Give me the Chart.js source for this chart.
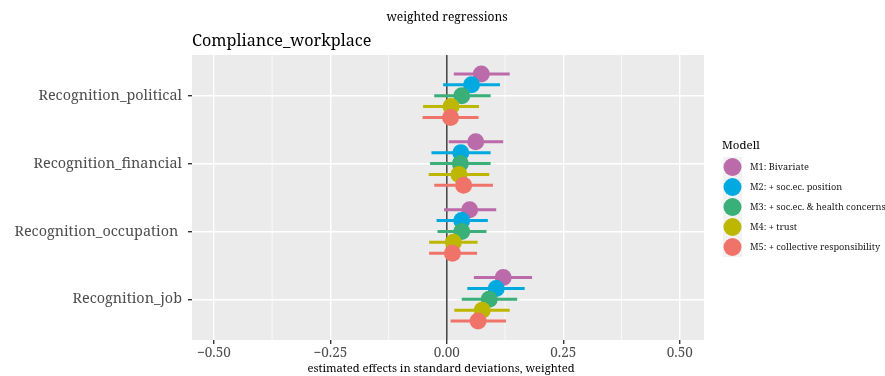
<!DOCTYPE html>
<html>
<head>
<meta charset="utf-8">
<script src="https://cdn.jsdelivr.net/npm/chart.js@4"></script>
<style>
  html, body { margin: 0; padding: 0; background: #fff; }
  #wrap { width: 885px; height: 376px; }
</style>
</head>
<body>
<div id="wrap"><canvas id="myChart" width="885" height="376"></canvas></div>
<script>
// predictors, bottom to top as they sit on the y axis
const predictors = ["Recognition_job", "Recognition_occupation ", "Recognition_financial", "Recognition_political"];
const models = ["M1: Bivariate", "M2: + soc.ec. position", "M3: + soc.ec. & health concerns", "M4: + trust", "M5: + collective responsibility"];
const colors = ["#BB6BAA", "#00A9E0", "#3BAF78", "#BDB700", "#F0736A"];
const xTicks = [-0.5, -0.25, 0, 0.25, 0.5];

// estimates per model, same order as predictors
const est_m1 = [0.121, 0.049, 0.062, 0.074];
const est_m2 = [0.106, 0.032, 0.030, 0.053];
const est_m3 = [0.091, 0.032, 0.029, 0.032];
const est_m4 = [0.076, 0.014, 0.026, 0.009];
const est_m5 = [0.067, 0.012, 0.036, 0.008];

// confidence interval bounds
const lo_m1 = [0.058, -0.006, 0.004, 0.015];
const hi_m1 = [0.183, 0.106, 0.121, 0.135];
const lo_m2 = [0.044, -0.022, -0.033, -0.008];
const hi_m2 = [0.167, 0.088, 0.094, 0.114];
const lo_m3 = [0.032, -0.020, -0.036, -0.027];
const hi_m3 = [0.151, 0.085, 0.094, 0.094];
const lo_m4 = [0.016, -0.038, -0.039, -0.051];
const hi_m4 = [0.135, 0.066, 0.091, 0.069];
const lo_m5 = [0.008, -0.038, -0.027, -0.052];
const hi_m5 = [0.127, 0.065, 0.099, 0.068];

const ests = [est_m1, est_m2, est_m3, est_m4, est_m5];
const los = [lo_m1, lo_m2, lo_m3, lo_m4, lo_m5];
const his = [hi_m1, hi_m2, hi_m3, hi_m4, hi_m5];

// dodge: M1 on top, M5 at the bottom of each predictor
const dodge = [0.32, 0.16, 0, -0.16, -0.32];

const serif = "'Noto Serif', 'DejaVu Serif Condensed', 'DejaVu Serif', serif";

const datasets = models.map((m, i) => ({
  label: m,
  data: predictors.map((p, j) => ({ x: ests[i][j], y: j + 1 + dodge[i], lo: los[i][j], hi: his[i][j] })),
  backgroundColor: colors[i],
  borderColor: colors[i],
  borderWidth: 0,
  pointRadius: 8.5,
  pointHoverRadius: 8.5,
  order: models.length - i
}));

const panelBg = {
  id: "panelBg",
  beforeDraw(chart) {
    const { ctx, chartArea: a } = chart;
    ctx.save();
    ctx.fillStyle = "#EBEBEB";
    ctx.fillRect(a.left, a.top, a.right - a.left, a.bottom - a.top);
    // minor vertical grid
    const xs = chart.scales.x;
    ctx.strokeStyle = "#fff";
    ctx.lineWidth = 0.7;
    for (let k = 0; k < xTicks.length - 1; k++) {
      const px = xs.getPixelForValue((xTicks[k] + xTicks[k + 1]) / 2);
      ctx.beginPath();
      ctx.moveTo(px, a.top);
      ctx.lineTo(px, a.bottom);
      ctx.stroke();
    }
    ctx.restore();
  },
  beforeDatasetsDraw(chart) {
    // zero reference line
    const { ctx, chartArea: a } = chart;
    const px = chart.scales.x.getPixelForValue(0);
    ctx.save();
    ctx.strokeStyle = "#222";
    ctx.lineWidth = 1.3;
    ctx.beginPath();
    ctx.moveTo(px, a.top);
    ctx.lineTo(px, a.bottom);
    ctx.stroke();
    ctx.restore();
  },
  beforeDatasetDraw(chart, args) {
    // interval bar under each model's points
    const { ctx } = chart;
    const ds = chart.data.datasets[args.index];
    const xs = chart.scales.x, ys = chart.scales.y;
    ctx.save();
    ctx.strokeStyle = ds.borderColor;
    ctx.lineWidth = 3;
    ds.data.forEach(d => {
      const py = ys.getPixelForValue(d.y);
      ctx.beginPath();
      ctx.moveTo(xs.getPixelForValue(d.lo), py);
      ctx.lineTo(xs.getPixelForValue(d.hi), py);
      ctx.stroke();
    });
    ctx.restore();
  },
  afterDraw(chart) {
    const { ctx, chartArea: a } = chart;
    ctx.save();
    ctx.fillStyle = "#000";
    ctx.textBaseline = "alphabetic";
    ctx.textAlign = "center";
    ctx.font = "12px " + serif;
    ctx.fillText("weighted regressions", (a.left + a.right) / 2 - 1, 21);
    ctx.textAlign = "left";
    ctx.font = "16.2px " + serif;
    ctx.fillText("Compliance_workplace", a.left, 46);
    ctx.textAlign = "center";
    ctx.font = "11.2px " + serif;
    ctx.fillText("estimated effects in standard deviations, weighted", 441, 372);

    // legend
    const lx = 722, ly = 157;
    ctx.textAlign = "left";
    ctx.font = "11.5px " + serif;
    ctx.fillText("Modell", lx, 149);
    ctx.fillStyle = "#F2F2F2";
    ctx.fillRect(lx + 1, ly, 19, models.length * 20);
    ctx.font = "9.2px " + serif;
    ctx.textBaseline = "middle";
    models.forEach((m, i) => {
      const cy = ly + 10 + i * 20;
      ctx.fillStyle = colors[i];
      ctx.beginPath();
      ctx.arc(lx + 10.5, cy, 9, 0, Math.PI * 2);
      ctx.fill();
      ctx.fillStyle = "#1A1A1A";
      ctx.fillText(m, lx + 28, cy + 0.5);
    });
    ctx.restore();
  }
};

new Chart("myChart", {
  type: "scatter",
  data: { datasets: datasets },
  options: {
    responsive: false,
    animation: false,
    events: [],
    layout: { padding: { top: 55, right: 181, left: 0, bottom: 0 } },
    plugins: {
      legend: { display: false },
      tooltip: { enabled: false },
      title: { display: false }
    },
    scales: {
      x: {
        min: -0.547,
        max: 0.552,
        afterBuildTicks: s => { s.ticks = xTicks.map(v => ({ value: v })); },
        afterFit: s => { s.height = 36; },
        grid: { color: "#fff", lineWidth: 1.4, tickColor: "#333", tickLength: 4, drawOnChartArea: true },
        border: { display: false },
        ticks: {
          color: "#4D4D4D",
          font: { family: serif, size: 13.5 },
          padding: 1,
          maxRotation: 0,
          callback: v => (v < 0 ? "\u2212" : "") + Math.abs(v).toFixed(2)
        }
      },
      y: {
        min: 0.4,
        max: 4.6,
        afterBuildTicks: s => { s.ticks = predictors.map((p, j) => ({ value: j + 1 })); },
        afterFit: s => { s.width = 192; },
        grid: { color: "#fff", lineWidth: 1.4, tickColor: "#333", tickLength: 4 },
        border: { display: false },
        ticks: {
          color: "#4D4D4D",
          font: { family: serif, size: 14.4 },
          padding: 6,
          callback: v => predictors[Math.round(v) - 1]
        }
      }
    }
  },
  plugins: [panelBg]
});
</script>
</body>
</html>
